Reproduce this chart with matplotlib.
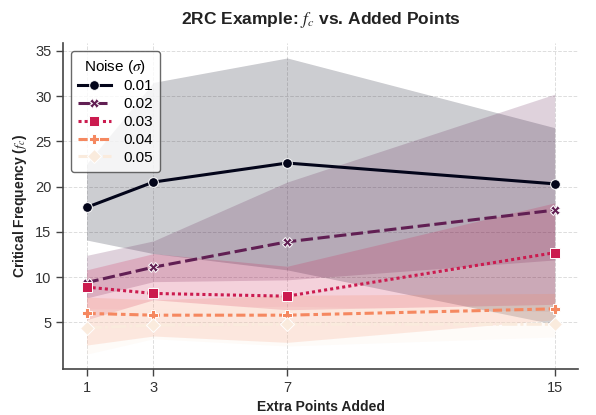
import matplotlib
matplotlib.use("Agg")
import matplotlib.pyplot as plt
import seaborn as sns
import numpy as np

x_points = [1, 3, 7, 15]
noise_levels = ["0.01", "0.02", "0.03", "0.04", "0.05"]

mean_001 = [17.7, 20.5, 22.6, 20.3]
lo_001 = [14.1, 12.6, 10.8, 4.8]
hi_001 = [22.5, 31.5, 34.2, 26.5]

mean_002 = [9.4, 11.1, 13.9, 17.4]
lo_002 = [7.7, 9.5, 9.7, 11.9]
hi_002 = [12.4, 14.0, 20.5, 30.2]

mean_003 = [8.9, 8.2, 7.9, 12.7]
lo_003 = [5.3, 7.5, 6.4, 7.0]
hi_003 = [10.8, 12.6, 11.2, 18.2]

mean_004 = [6.0, 5.8, 5.8, 6.5]
lo_004 = [2.5, 3.5, 2.8, 5.3]
hi_004 = [7.8, 7.5, 8.0, 8.2]

mean_005 = [4.4, 4.7, 4.8, 4.8]
lo_005 = [1.5, 3.2, 2.4, 3.4]
hi_005 = [6.5, 6.5, 6.8, 6.2]

means = [mean_001, mean_002, mean_003, mean_004, mean_005]
los = [lo_001, lo_002, lo_003, lo_004, lo_005]
his = [hi_001, hi_002, hi_003, hi_004, hi_005]

plt.rcParams['font.family'] = ['Liberation Sans', 'DejaVu Sans']
plt.rcParams['mathtext.fontset'] = 'stix'

cmap = sns.color_palette("rocket", as_cmap=True)
colors = [cmap(v) for v in np.linspace(0, 1, 5)]
markers = ['o', 'X', 's', 'P', 'D']
dashes = [None, (4, 1.5), (1, 1), (3, 1.25, 1.5, 1.25), (5, 1, 1, 1)]

fig = plt.figure(figsize=(5.96, 4.15), dpi=100)
ax = fig.add_axes([0.106, 0.111, 0.864, 0.785])

for i in range(5):
    ax.fill_between(x_points, los[i], his[i], color=colors[i], alpha=0.2, linewidth=0)
for i in range(5):
    line, = ax.plot(x_points, means[i], color=colors[i], marker=markers[i],
                    markersize=7, linewidth=2.2, label=noise_levels[i],
                    markeredgecolor='white', markeredgewidth=0.7)
    if dashes[i] is not None:
        line.set_dashes(dashes[i])

ax.set_xticks(x_points)
ax.set_yticks([5, 10, 15, 20, 25, 30, 35])
ax.tick_params(axis='both', labelsize=10.5, length=5, width=1, color='#444444', labelcolor='#333333')
ax.grid(True, linestyle='--', color='#dddddd', linewidth=0.7)
ax.set_axisbelow(True)
for s in ['top', 'right']:
    ax.spines[s].set_visible(False)
for s in ['left', 'bottom']:
    ax.spines[s].set_color('#444444')
    ax.spines[s].set_linewidth(1.2)

ax.set_xlabel("Extra Points Added", fontsize=10, fontweight='bold', color='#222222')
ax.set_ylabel("Critical Frequency ($f_c$)", fontsize=10, fontweight='bold', color='#222222')
ax.set_title("2RC Example: $f_c$ vs. Added Points", fontsize=12.5, fontweight='bold',
             color='#222222', pad=14)

leg = ax.legend(title="Noise ($\\sigma$)", loc='upper left', fontsize=11, title_fontsize=11,
                frameon=True, edgecolor='#444444', handlelength=2.2, borderpad=0.45,
                labelspacing=0.25, handletextpad=0.8, bbox_to_anchor=(0.0, 1.0))
leg.get_frame().set_linewidth(1.0)

fig.savefig("out.png", dpi=100)
